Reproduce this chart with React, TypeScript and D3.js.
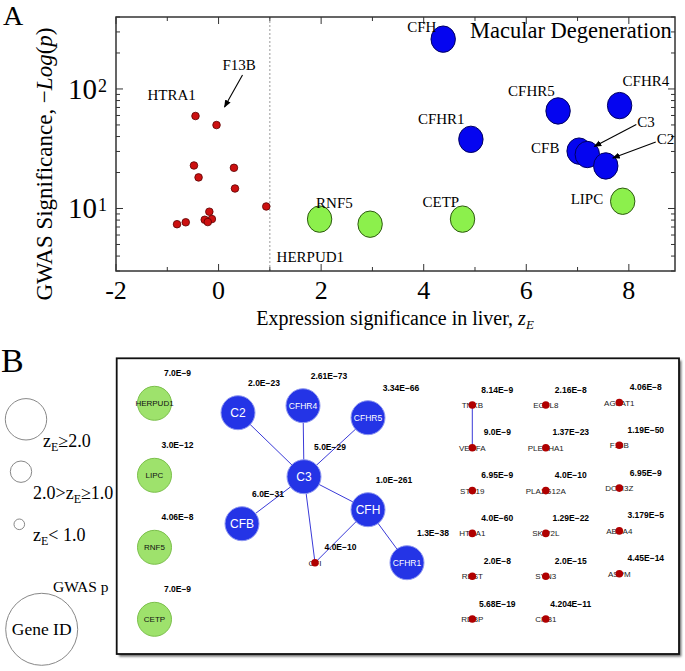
import React, { useEffect } from "react";
import * as d3 from "d3";

const W = 685;
const H = 671;

// ---------- Panel A data ----------
const redZ = [-0.45, -0.04, -0.48, -0.39, 0.3, 0.32, 0.93, -0.81, -0.64, -0.18, -0.27, -0.13, -0.21];
const redLogP = [59.4, 49.9, 22.9, 18.2, 21.9, 14.7, 10.4, 7.39, 7.67, 9.4, 8.05, 8.16, 7.7];
const blueGenes = ["CFH", "CFHR1", "CFHR5", "CFHR4", "CFB", "C3", "C2"];
const blueZ = [4.38, 4.92, 6.62, 7.82, 7.03, 7.19, 7.55];
const blueLogP = [261, 37.9, 65.5, 72.6, 30.2, 28.3, 22.7];
const greenGenes = ["HERPUD1", "RNF5", "CETP", "LIPC"];
const greenZ = [1.97, 2.955, 4.757, 7.88];
const greenLogP = [8.15, 7.39, 8.15, 11.5];
const xTickLabels = [-2, 0, 2, 4, 6, 8];
const yTickExps = [1, 2];

// ---------- Panel B data ----------
const netGreen = ["HERPUD1", "LIPC", "RNF5", "CETP"];
const netGreenP = ["7.0E\u22129", "3.0E\u221212", "4.06E\u22128", "7.0E\u22129"];
const netBlue = ["C2", "CFHR4", "CFHR5", "C3", "CFB", "CFH", "CFHR1"];
const netBlueP = ["2.0E\u221223", "2.61E\u221273", "3.34E\u221266", "5.0E\u221229", "6.0E\u221231", "1.0E\u2212261", "1.3E\u221238"];
const netCfi = ["CFI"];
const netCfiP = ["4.0E\u221210"];
const netRed = [
  ["TNXB", "VEGFA", "STK19", "HTRA1", "RBST", "RDBP"],
  ["EGFL8", "PLEKHA1", "PLA2G12A", "SKIV2L", "SYN3", "CRB1"],
  ["AGPAT1", "F13B", "DOM3Z", "ABCA4", "ASPM"],
];
const netRedP = [
  ["8.14E\u22129", "9.0E\u22129", "6.95E\u22129", "4.0E\u221260", "2.0E\u22128", "5.68E\u221219"],
  ["2.16E\u22128", "1.37E\u221223", "4.0E\u221210", "1.29E\u221222", "2.0E\u221215", "4.204E\u221211"],
  ["4.06E\u22128", "1.19E\u221250", "6.95E\u22129", "3.179E\u22125", "4.45E\u221214"],
];
const netEdges = [
  ["C2", "C3"], ["CFHR4", "C3"], ["CFHR5", "C3"], ["CFB", "C3"], ["CFH", "C3"],
  ["C3", "CFI"], ["CFH", "CFI"], ["CFH", "CFHR1"], ["TNXB", "VEGFA"],
];

// layout of the complement cluster, offsets from C3 hub
const clusterLayout: Record<string, [number, number]> = {
  C3: [0, 0], C2: [-66, -64], CFHR4: [-1, -71], CFHR5: [64, -59], CFB: [-62, 47],
  CFH: [64, 33], CFHR1: [103, 86], CFI: [11, 86],
};

const SERIF = "'Liberation Serif', 'Times New Roman', serif";
const SANS = "'Liberation Sans', Arial, sans-serif";

export default function App() {
  useEffect(() => {
    document.body.style.margin = "0";
  }, []);

  // Panel A scales
  const x = d3.scaleLinear().domain([-2, 8.9]).range([116, 675]);
  const y = d3.scaleLog().domain([3, 400]).range([271, 17]);
  const [x0, x1] = x.range();
  const [yb, yt] = y.range();

  const minorY: number[] = [];
  for (let e = 0; e <= 2; e++) {
    for (let m = 1; m <= 9; m++) {
      const v = m * Math.pow(10, e);
      if (v >= 3 && v <= 400) minorY.push(v);
    }
  }
  const xIntTicks = d3.range(-2, 9, 1);

  const bluePts = blueGenes.map((g, i) => ({ g, px: x(blueZ[i]), py: y(blueLogP[i]) }));
  const greenPts = greenGenes.map((g, i) => ({ g, px: x(greenZ[i]), py: y(greenLogP[i]) }));
  const redPts = redZ.map((z, i) => ({ px: x(z), py: y(redLogP[i]) }));
  const ptOf = (g: string) => bluePts.find((p) => p.g === g) || greenPts.find((p) => p.g === g)!;

  const labelsA: { t: string; ref: () => { px: number; py: number }; dx: number; dy: number }[] = [
    { t: "CFH", ref: () => ptOf("CFH"), dx: -36, dy: -7 },
    { t: "CFHR1", ref: () => ptOf("CFHR1"), dx: -53, dy: -15 },
    { t: "CFHR5", ref: () => ptOf("CFHR5"), dx: -50, dy: -15 },
    { t: "CFHR4", ref: () => ptOf("CFHR4"), dx: 3, dy: -20 },
    { t: "CFB", ref: () => ptOf("CFB"), dx: -48, dy: 2 },
    { t: "C3", ref: () => ptOf("C3"), dx: 50, dy: -27 },
    { t: "C2", ref: () => ptOf("C2"), dx: 51, dy: -22 },
    { t: "HERPUD1", ref: () => ptOf("HERPUD1"), dx: -43, dy: 43 },
    { t: "RNF5", ref: () => ptOf("RNF5"), dx: -54, dy: -16 },
    { t: "CETP", ref: () => ptOf("CETP"), dx: -40, dy: -12 },
    { t: "LIPC", ref: () => ptOf("LIPC"), dx: -52, dy: 3 },
    { t: "HTRA1", ref: () => redPts[0], dx: -48, dy: -16 },
    { t: "F13B", ref: () => redPts[1], dx: 6, dy: -55 },
  ];
  const arrowsA = [
    { ref: () => redPts[1], sx: 26, sy: -50, tx: 8, ty: -18 },
    { ref: () => ptOf("C3"), sx: 49, sy: -30, tx: 7, ty: -8 },
    { ref: () => ptOf("C2"), sx: 50, sy: -24, tx: 7, ty: -8 },
  ];

  // Panel B layout
  const hub = { x: 304, y: 476.7 };
  const greenY = d3.scaleLinear().domain([0, netGreen.length - 1]).range([403.3, 619.3]);
  const gridX = d3.scaleLinear().domain([0, 2]).range([472.3, 619.3]);
  const gridY = d3.scaleLinear().domain([0, 5]).range([405, 619]);
  const pos: Record<string, { x: number; y: number }> = {};
  Object.keys(clusterLayout).forEach((k) => {
    pos[k] = { x: hub.x + clusterLayout[k][0], y: hub.y + clusterLayout[k][1] };
  });
  netRed.forEach((col, c) =>
    col.forEach((g, r) => {
      pos[g] = { x: gridX(c), y: gridY(r) - (c === 2 ? 2.5 : 0) };
    })
  );
  netGreen.forEach((g, i) => {
    pos[g] = { x: 154.5, y: greenY(i) };
  });

  const bigR = 17;
  const netBlueFill = "#2434e6";

  return (
    <svg width={W} height={H} style={{ display: "block", background: "#fff" }}>
      <defs>
        <marker id="arr" viewBox="0 0 10 10" refX="9" refY="5" markerWidth="7" markerHeight="7" orient="auto">
          <path d="M0,1 L10,5 L0,9 z" fill="#000" />
        </marker>
        <filter id="shadow" x="-5%" y="-5%" width="110%" height="110%">
          <feGaussianBlur stdDeviation="1.2" />
        </filter>
      </defs>

      {/* ================= Panel A ================= */}
      <text x={3} y={25} fontFamily={SERIF} fontSize={28}>A</text>

      {/* dotted line at z=1 */}
      <line x1={x(1)} x2={x(1)} y1={yt} y2={yb} stroke="#999" strokeWidth={1} strokeDasharray="2,2" />

      {/* ticks */}
      {xIntTicks.map((t) => {
        const len = t % 2 === 0 ? 7 : 4;
        return (
          <g key={"xt" + t} stroke="#333" strokeWidth={1}>
            <line x1={x(t)} x2={x(t)} y1={yb} y2={yb - len} />
            <line x1={x(t)} x2={x(t)} y1={yt} y2={yt + len} />
          </g>
        );
      })}
      {minorY.map((v) => {
        const major = Math.abs(Math.log10(v) - Math.round(Math.log10(v))) < 1e-9;
        const len = major ? 7 : 4;
        return (
          <g key={"yt" + v} stroke="#333" strokeWidth={1}>
            <line x1={x0} x2={x0 + len} y1={y(v)} y2={y(v)} />
            <line x1={x1} x2={x1 - len} y1={y(v)} y2={y(v)} />
          </g>
        );
      })}
      <rect x={x0} y={yt} width={x1 - x0} height={yb - yt} fill="none" stroke="#333" strokeWidth={1.5} />

      {/* tick labels */}
      {xTickLabels.map((t) => (
        <text key={"xl" + t} x={x(t)} y={299} textAnchor="middle" fontFamily={SERIF} fontSize={26}>
          {t < 0 ? "-" + Math.abs(t) : String(t)}
        </text>
      ))}
      {yTickExps.map((e) => (
        <g key={"yl" + e}>
          <text x={97} y={y(Math.pow(10, e)) + 10} textAnchor="end" fontFamily={SERIF} fontSize={29}>10</text>
          <text x={98} y={y(Math.pow(10, e)) + 3} fontFamily={SERIF} fontSize={18}>{e}</text>
        </g>
      ))}

      {/* axis titles */}
      <text transform="translate(52,164) rotate(-90)" textAnchor="middle" fontFamily={SERIF} fontSize={23}>
        GWAS Significance, {"\u2212"}<tspan fontStyle="italic">Log</tspan>(<tspan fontStyle="italic">p</tspan>)
      </text>
      <text x={395} y={325} textAnchor="middle" fontFamily={SERIF} fontSize={20}>
        Expression significance in liver, <tspan fontStyle="italic">z</tspan>
        <tspan fontStyle="italic" fontSize={13} dy={4}>E</tspan>
      </text>

      {/* points */}
      {redPts.map((p, i) => (
        <circle key={"r" + i} cx={p.px} cy={p.py} r={3.8} fill="#cc1010" stroke="#5a0000" strokeWidth={0.8} />
      ))}
      {greenPts.map((p) => (
        <ellipse key={"g" + p.g} cx={p.px} cy={p.py} rx={12.2} ry={13.2} fill="#8cf04c" stroke="#2e5a10" strokeWidth={1} />
      ))}
      {bluePts.map((p) => (
        <ellipse key={"b" + p.g} cx={p.px} cy={p.py} rx={12.2} ry={13.2} fill="#0505f0" stroke="#000060" strokeWidth={1} />
      ))}

      {/* labels & arrows */}
      {labelsA.map((l) => {
        const p = l.ref();
        return (
          <text key={"la" + l.t} x={p.px + l.dx} y={p.py + l.dy} fontFamily={SERIF} fontSize={15}>
            {l.t}
          </text>
        );
      })}
      {arrowsA.map((a, i) => {
        const p = a.ref();
        return (
          <line key={"ar" + i} x1={p.px + a.sx} y1={p.py + a.sy} x2={p.px + a.tx} y2={p.py + a.ty}
            stroke="#000" strokeWidth={1.1} markerEnd="url(#arr)" />
        );
      })}
      <text x={470} y={38} fontFamily={SERIF} fontSize={22.5}>Macular Degeneration</text>

      {/* ================= Panel B ================= */}
      <text x={1} y={372} fontFamily={SERIF} fontSize={34}>B</text>

      {/* legend */}
      <circle cx={26} cy={419.3} r={20.7} fill="#fff" stroke="#888" strokeWidth={1} />
      <text x={43} y={447} fontFamily={SERIF} fontSize={18}>
        z<tspan fontSize={12} dy={4}>E</tspan><tspan dy={-4}>{"\u22652.0"}</tspan>
      </text>
      <circle cx={21} cy={471.7} r={10.7} fill="#fff" stroke="#888" strokeWidth={1} />
      <text x={33} y={499} fontFamily={SERIF} fontSize={18}>
        2.0&gt;z<tspan fontSize={12} dy={4}>E</tspan><tspan dy={-4}>{"\u22651.0"}</tspan>
      </text>
      <circle cx={19.3} cy={524.3} r={5.3} fill="#fff" stroke="#888" strokeWidth={1} />
      <text x={33} y={541} fontFamily={SERIF} fontSize={18}>
        z<tspan fontSize={12} dy={4}>E</tspan><tspan dy={-4}>{"< 1.0"}</tspan>
      </text>
      <text x={53} y={592} fontFamily={SERIF} fontSize={15.5}>GWAS p</text>
      <circle cx={41.7} cy={629.3} r={36} fill="#fff" stroke="#888" strokeWidth={1} />
      <text x={41.7} y={635} textAnchor="middle" fontFamily={SERIF} fontSize={17.5}>Gene ID</text>

      {/* network box */}
      <rect x={119} y={360.5} width={562.3} height={296} fill="#666" filter="url(#shadow)" />
      <rect x={116.7} y={358.3} width={562.3} height={295.7} fill="#fff" stroke="#111" strokeWidth={1.8} />

      {/* edges */}
      {netEdges.map(([a, b], i) => (
        <line key={"e" + i} x1={pos[a].x} y1={pos[a].y} x2={pos[b].x} y2={pos[b].y} stroke="#3a3ad8" strokeWidth={1} />
      ))}

      {/* green nodes */}
      {netGreen.map((g, i) => (
        <g key={"ng" + g}>
          <circle cx={pos[g].x} cy={pos[g].y} r={bigR} fill="#9ee26c" stroke="#7cc04c" strokeWidth={1} />
          <text x={pos[g].x} y={pos[g].y + 3} textAnchor="middle" fontFamily={SANS} fontSize={8} fill="#111">{g}</text>
          <text x={pos[g].x + 23} y={pos[g].y - 27} textAnchor="middle" fontFamily={SANS} fontWeight="bold" fontSize={8.5}>
            {netGreenP[i]}
          </text>
        </g>
      ))}

      {/* blue nodes */}
      {netBlue.map((g, i) => (
        <g key={"nb" + g}>
          <circle cx={pos[g].x} cy={pos[g].y} r={bigR} fill={netBlueFill} stroke="#8f98f0" strokeWidth={1} />
          <text x={pos[g].x} y={pos[g].y + (g.length > 3 ? 3 : 4)} textAnchor="middle" fontFamily={SANS}
            fontSize={g.length > 3 ? 8.5 : 12} fill="#fff">{g}</text>
          <text x={pos[g].x + (g === "CFHR5" ? 33 : 26)} y={pos[g].y - 26.5} textAnchor="middle" fontFamily={SANS}
            fontWeight="bold" fontSize={8.5}>{netBlueP[i]}</text>
        </g>
      ))}

      {/* CFI */}
      {netCfi.map((g, i) => (
        <g key={"nc" + g}>
          <text x={pos[g].x} y={pos[g].y + 3} textAnchor="middle" fontFamily={SANS} fontSize={8} fill="#222">{g}</text>
          <circle cx={pos[g].x} cy={pos[g].y} r={3.8} fill="#b00000" />
          <text x={pos[g].x + 25.5} y={pos[g].y - 12.5} textAnchor="middle" fontFamily={SANS} fontWeight="bold" fontSize={8.5}>
            {netCfiP[i]}
          </text>
        </g>
      ))}

      {/* red grid nodes */}
      {netRed.map((col, c) =>
        col.map((g, r) => (
          <g key={"nr" + g}>
            <text x={pos[g].x} y={pos[g].y + 3} textAnchor="middle" fontFamily={SANS} fontSize={8} fill="#222">{g}</text>
            <circle cx={pos[g].x} cy={pos[g].y} r={3.8} fill="#b00000" />
            <text x={pos[g].x + 25 + (c === 2 ? 1.5 : 0)} y={pos[g].y - 12.5} textAnchor="middle" fontFamily={SANS}
              fontWeight="bold" fontSize={8.5}>{netRedP[c][r]}</text>
          </g>
        ))
      )}
    </svg>
  );
}
